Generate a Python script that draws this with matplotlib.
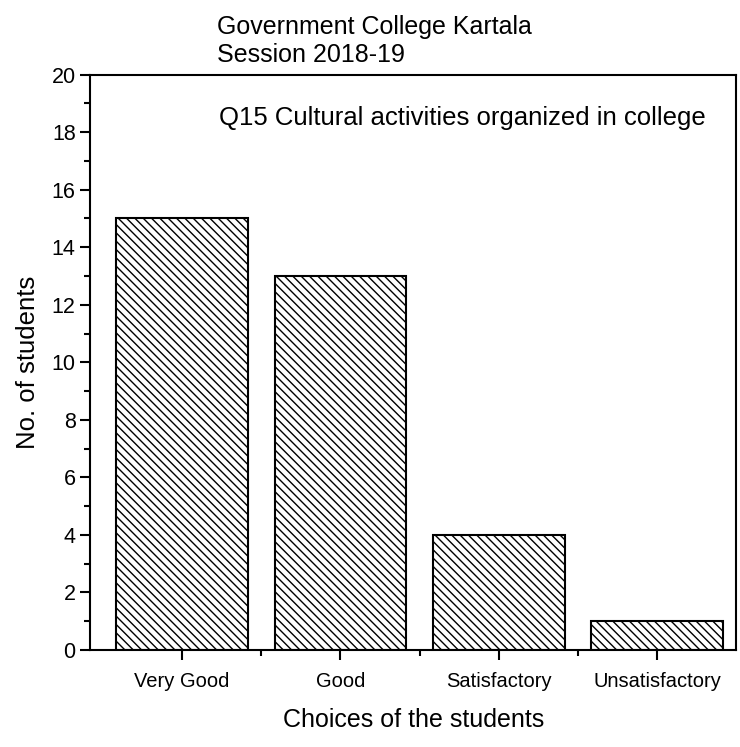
import matplotlib
matplotlib.use('Agg')
import matplotlib.pyplot as plt
from matplotlib.ticker import MultipleLocator, FixedLocator

plt.rcParams['font.family'] = ['Liberation Sans', 'DejaVu Sans']
plt.rcParams['hatch.linewidth'] = 1.0

choices = ['Very Good', 'Good', 'Satisfactory', 'Unsatisfactory']
students = [15, 13, 4, 1]
pos = [1, 2, 3, 4]

fig = plt.figure(figsize=(7.4, 7.47), dpi=100)
ax = fig.add_axes([0.122, 0.13, 0.873, 0.77])

ax.bar(pos, students, width=0.83, color='white', edgecolor='black',
       linewidth=1.5, hatch='\\\\\\\\')

ax.set_xlim(0.42, 4.5)
ax.set_ylim(0, 20)
ax.set_xticks(pos)
ax.set_xticklabels(choices)
ax.xaxis.set_minor_locator(FixedLocator([1.5, 2.5, 3.5]))
ax.yaxis.set_major_locator(MultipleLocator(2))
ax.yaxis.set_minor_locator(MultipleLocator(1))
ax.tick_params(axis='both', which='major', direction='out', length=7, width=1.5, labelsize=14.5)
ax.tick_params(axis='y', which='major', labelsize=15.5)
ax.tick_params(axis='x', which='major', pad=9)
ax.tick_params(axis='both', which='minor', direction='out', length=4, width=1.5)
for s in ax.spines.values():
    s.set_linewidth(1.5)

ax.set_xlabel('Choices of the students', fontsize=18, labelpad=12)
ax.set_ylabel('No. of students', fontsize=18.5, labelpad=8)

ax.text(0.2, 0.945, 'Q15 Cultural activities organized in college',
        transform=ax.transAxes, fontsize=18.5, va='top', ha='left')
fig.text(0.293, 0.91, 'Government College Kartala\nSession 2018-19',
         fontsize=18, ha='left', va='bottom', linespacing=1.2)

fig.savefig('out.png', dpi=100)
